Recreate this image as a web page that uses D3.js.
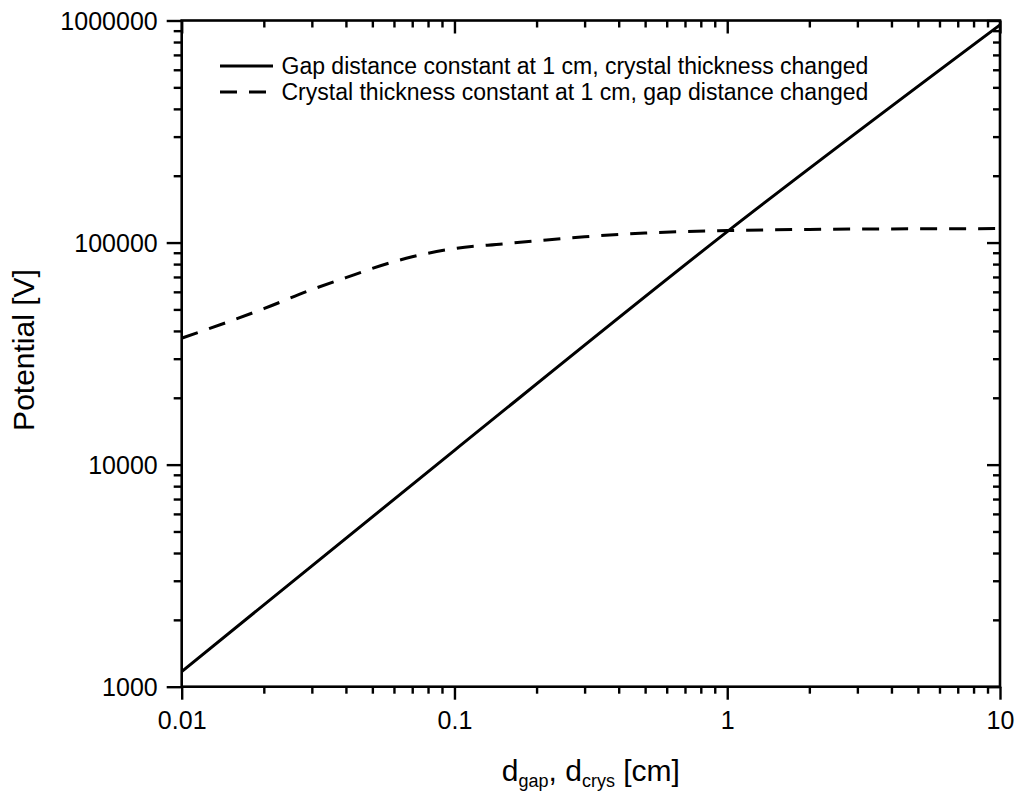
<!DOCTYPE html>
<html>
<head>
<meta charset="utf-8">
<script src="https://cdn.jsdelivr.net/npm/d3@7"></script>
<style>
  html, body { margin: 0; padding: 0; background: #fff; }
  svg { display: block; font-family: "Liberation Sans", Arial, sans-serif; }
</style>
</head>
<body>
<svg id="chart" width="1019" height="793"></svg>
<script>
// Potential vs. distance (log-log)
const dCrys = [0.01, 0.1, 1, 10];
const vCrysChanged = [1170, 11600, 112000, 955000];

const dGap = [0.01, 0.015, 0.02, 0.03, 0.04, 0.05, 0.07, 0.1, 0.15, 0.2, 0.3, 0.5, 1, 2, 5, 10];
const vGapChanged = [37100, 44200, 50400, 61400, 69500, 76500, 86300, 94000, 98600, 101800, 106200, 110400, 113200, 114600, 115300, 115600];

const xTicks = [0.01, 0.1, 1, 10];
const xTickLabels = ["0.01", "0.1", "1", "10"];
const yTicks = [1000, 10000, 100000, 1000000];
const yTickLabels = ["1000", "10000", "100000", "1000000"];

const seriesNames = [
  "Gap distance constant at 1 cm, crystal thickness changed",
  "Crystal thickness constant at 1 cm, gap distance changed"
];

const W = 1019, H = 793;
const m = { left: 181.7, right: W - 1000, top: 20.5, bottom: H - 686.7 };
const iw = W - m.left - m.right, ih = H - m.top - m.bottom;

const svg = d3.select("#chart");
const g = svg.append("g").attr("transform", `translate(${m.left},${m.top})`);

const x = d3.scaleLog().domain([0.01, 10]).range([0, iw]);
const y = d3.scaleLog().domain([1000, 1000000]).range([ih, 0]);

// minor tick values (2..9 within each decade)
function minors(lo, hi) {
  const out = [];
  for (let p = Math.log10(lo); p < Math.log10(hi); p++) {
    for (let k = 2; k <= 9; k++) out.push(k * Math.pow(10, p));
  }
  return out;
}
const xMinor = minors(0.01, 10);
const yMinor = minors(1000, 1000000);

const tickStroke = 2.4;

function styleAxis(sel) {
  sel.select(".domain").remove();
  sel.selectAll(".tick line").attr("stroke", "#000").attr("stroke-width", tickStroke);
  sel.selectAll(".tick text").attr("fill", "#000");
}

// bottom axis: ticks outward
g.append("g").attr("transform", `translate(0,${ih})`)
  .call(d3.axisBottom(x).tickValues(xMinor).tickSize(7).tickFormat(""))
  .call(styleAxis);
const xb = g.append("g").attr("transform", `translate(0,${ih})`)
  .call(d3.axisBottom(x).tickValues(xTicks).tickSize(13)
    .tickFormat((d, i) => xTickLabels[i]).tickPadding(0))
  .call(styleAxis);
xb.selectAll(".tick text").attr("font-size", 25).attr("y", 42.6).attr("dy", 0);

// top axis: ticks inward
g.append("g")
  .call(d3.axisBottom(x).tickValues(xMinor).tickSize(7).tickFormat(""))
  .call(styleAxis);
g.append("g")
  .call(d3.axisBottom(x).tickValues(xTicks).tickSize(13).tickFormat(""))
  .call(styleAxis);

// left axis: ticks outward
g.append("g")
  .call(d3.axisLeft(y).tickValues(yMinor).tickSize(8).tickFormat(""))
  .call(styleAxis);
const yl = g.append("g")
  .call(d3.axisLeft(y).tickValues(yTicks).tickSize(15)
    .tickFormat((d, i) => yTickLabels[i]).tickPadding(9))
  .call(styleAxis);
yl.selectAll(".tick text").attr("font-size", 25).attr("dy", "0.36em");

// right axis: ticks inward
g.append("g").attr("transform", `translate(${iw},0)`)
  .call(d3.axisLeft(y).tickValues(yMinor).tickSize(7).tickFormat(""))
  .call(styleAxis);
g.append("g").attr("transform", `translate(${iw},0)`)
  .call(d3.axisLeft(y).tickValues(yTicks).tickSize(13).tickFormat(""))
  .call(styleAxis);

// frame
g.append("rect").attr("width", iw).attr("height", ih)
  .attr("fill", "none").attr("stroke", "#000").attr("stroke-width", 2.6);

// clip for curves
svg.append("defs").append("clipPath").attr("id", "plotclip")
  .append("rect").attr("width", iw).attr("height", ih);

const line = d3.line().x(d => x(d[0])).y(d => y(d[1])).curve(d3.curveMonotoneX);

const plot = g.append("g").attr("clip-path", "url(#plotclip)");
plot.append("path")
  .datum(dCrys.map((d, i) => [d, vCrysChanged[i]]))
  .attr("d", line).attr("fill", "none").attr("stroke", "#000").attr("stroke-width", 3);
plot.append("path")
  .datum(dGap.map((d, i) => [d, vGapChanged[i]]))
  .attr("d", line).attr("fill", "none").attr("stroke", "#000").attr("stroke-width", 3)
  .attr("stroke-dasharray", "17,12");

// legend
const legend = svg.append("g");
const legendRows = [{ y: 66, dash: null }, { y: 92, dash: "17,12" }];
legendRows.forEach((r, i) => {
  legend.append("line").attr("x1", 220).attr("x2", 273).attr("y1", r.y).attr("y2", r.y)
    .attr("stroke", "#000").attr("stroke-width", 3)
    .attr("stroke-dasharray", r.dash);
  legend.append("text").attr("x", 281.5).attr("y", r.y).attr("dy", "0.36em")
    .attr("font-size", 23).attr("fill", "#000").text(seriesNames[i]);
});

// axis titles
const xt = svg.append("text").attr("x", m.left + iw / 2).attr("y", 781)
  .attr("text-anchor", "middle").attr("font-size", 30).attr("fill", "#000");
xt.append("tspan").text("d");
xt.append("tspan").attr("font-size", 18).attr("dy", 6).text("gap");
xt.append("tspan").attr("dy", -6).text(", d");
xt.append("tspan").attr("font-size", 18).attr("dy", 6).text("crys");
xt.append("tspan").attr("dy", -6).text(" [cm]");

svg.append("text").attr("transform", "translate(34,350) rotate(-90)")
  .attr("text-anchor", "middle").attr("font-size", 30).attr("fill", "#000")
  .text("Potential [V]");
</script>
</body>
</html>
